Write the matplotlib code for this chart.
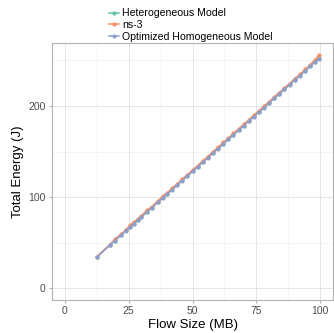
import matplotlib
matplotlib.use("Agg")
import matplotlib.pyplot as plt
from matplotlib.lines import Line2D

plt.rcParams['font.family'] = ['Liberation Sans', 'DejaVu Sans']

# Flow size (MB)
flow_size = [12.5, 17.5, 19.5, 22, 24, 25.5, 27, 28.5, 30, 32, 34, 36.5, 38.5, 40,
             42, 44, 46, 48, 50, 52, 54, 56, 58, 60, 62, 64, 66, 68, 70, 72, 74,
             76, 78, 80, 82, 84, 86, 88, 90, 92, 94, 96, 98, 99.5]

# Total energy (J)
hetero = [34.5, 47.3, 52.3, 58.5, 63.5, 67.3, 71.0, 74.8, 78.5, 83.5, 88.5, 94.8,
          99.8, 103.5, 108.5, 113.5, 118.5, 123.5, 128.5, 133.5, 138.5, 143.5,
          148.5, 153.5, 158.5, 163.5, 168.5, 173.5, 178.5, 183.5, 188.5, 193.5,
          198.5, 203.5, 208.5, 213.5, 218.5, 223.5, 228.5, 233.5, 238.5, 243.5,
          248.5, 252.3]
ns3 = [34.6, 47.8, 53.8, 59.5, 64.5, 69.0, 72.5, 76.0, 79.5, 85.5, 89.5, 96.0,
       101.5, 104.5, 110.0, 114.5, 120.0, 124.5, 130.0, 134.5, 140.0, 144.5,
       150.0, 154.5, 160.0, 164.5, 170.0, 174.5, 180.0, 184.5, 190.0, 194.5,
       200.0, 204.5, 210.0, 214.5, 220.0, 224.5, 230.0, 234.5, 240.0, 245.0,
       250.5, 256.0]
optimized = [34.0, 47.0, 52.0, 58.2, 63.2, 67.0, 70.7, 74.5, 78.2, 83.2, 88.2,
             94.5, 99.5, 103.2, 108.2, 113.2, 118.2, 123.2, 128.2, 133.2, 138.2,
             143.2, 148.2, 153.2, 158.2, 163.2, 168.2, 173.2, 178.2, 183.2, 188.2,
             193.2, 198.2, 203.2, 208.2, 213.2, 218.2, 223.2, 228.2, 233.2, 238.2,
             243.2, 248.2, 251.8]

labels = ['Heterogeneous Model', 'ns-3', 'Optimized Homogeneous Model']
colors = ['#66C2A5', '#FC8D62', '#8DA0CB']

fig = plt.figure(figsize=(3.34, 3.33), dpi=100)
ax = fig.add_axes([0.156, 0.099, 0.841, 0.772])

for y, c in zip([hetero, ns3, optimized], colors):
    ax.plot(flow_size, y, color=c, lw=1.1, marker='o', ms=3, mec='none')

ax.set_xlim(-5, 105)
ax.set_ylim(-12.8, 269)
ax.set_xticks([0, 25, 50, 75, 100])
ax.set_yticks([0, 100, 200])
ax.set_xticks([12.5, 37.5, 62.5, 87.5], minor=True)
ax.set_yticks([50, 150, 250], minor=True)
ax.grid(True, which='major', color='#E0E0E0', lw=0.6)
ax.grid(True, which='minor', color='#EDEDED', lw=0.4)
ax.set_axisbelow(True)
for s in ax.spines.values():
    s.set_color('#B3B3B3')
    s.set_linewidth(0.8)
ax.tick_params(which='major', length=2.5, color='#B3B3B3', labelsize=7.5,
               labelcolor='#4D4D4D', pad=2)
ax.tick_params(which='minor', length=0)

ax.set_xlabel('Flow Size (MB)', fontsize=9.5, labelpad=2)
ax.set_ylabel('Total Energy (J)', fontsize=9.5, labelpad=3)

handles = [Line2D([], [], color=c, lw=1.1, marker='o', ms=3, mec='none') for c in colors]
fig.legend(handles, labels, loc='upper left', bbox_to_anchor=(0.3, 1.0),
           frameon=False, fontsize=7.6, handlelength=1.0, handletextpad=0.3,
           labelspacing=0.15, borderpad=0.3)

fig.savefig('out.png', dpi=100)
